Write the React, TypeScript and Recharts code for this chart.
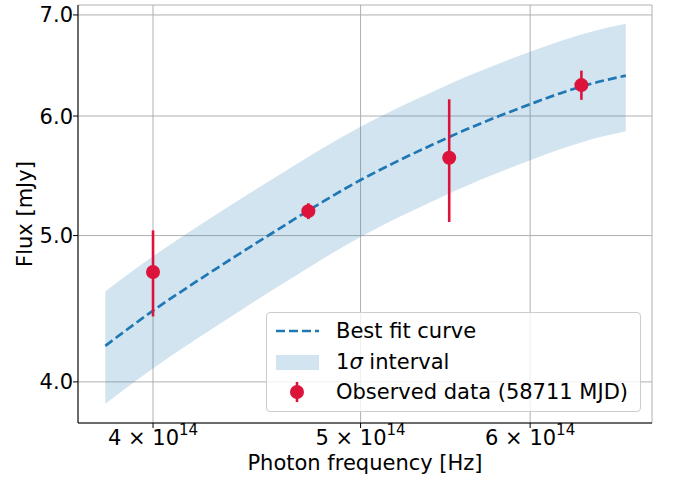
import {
  ComposedChart,
  Line,
  Area,
  Scatter,
  ErrorBar,
  XAxis,
  YAxis,
  CartesianGrid,
} from "recharts";

// best fit curve + 1 sigma band
const freq = [3.8e14, 4.0e14, 4.2e14, 4.4e14, 4.6e14, 4.8e14, 5.0e14, 5.2e14, 5.4e14, 5.6e14, 5.8e14, 6.0e14, 6.2e14, 6.4e14, 6.65e14];
const fit = [4.226, 4.459, 4.671, 4.874, 5.071, 5.264, 5.442, 5.599, 5.742, 5.877, 5.998, 6.109, 6.213, 6.3, 6.381];
const lower = [3.869, 4.083, 4.279, 4.466, 4.647, 4.825, 4.99, 5.135, 5.267, 5.393, 5.505, 5.608, 5.705, 5.787, 5.862];
const upper = [4.592, 4.844, 5.073, 5.292, 5.504, 5.712, 5.903, 6.072, 6.225, 6.37, 6.499, 6.617, 6.728, 6.82, 6.906];

// observed data (58711 MJD)
const obsFreq = [4.0e14, 4.727e14, 5.5e14, 6.34e14];
const obsFlux = [4.73, 5.19, 5.63, 6.29];
const obsErr = [0.31, 0.063, 0.525, 0.14];

const xTicks = [4e14, 5e14, 6e14];
const yTicks = [4, 5, 6, 7];

const FONT = "DejaVu Sans";
const BLUE = "#1f77b4";
const RED = "#dc143c";

const curveData = freq.map((f, i) => ({ x: f, fit: fit[i], band: [lower[i], upper[i]] }));
const obsData = obsFreq.map((f, i) => ({ x: f, y: obsFlux[i], err: obsErr[i] }));

const XTick = (props: any) => {
  const { x, y, payload } = props;
  const m = Math.round(payload.value / 1e14);
  return (
    <text x={x} y={y + 15} textAnchor="middle" fontSize={21} fontFamily={FONT} fill="#000">
      {m} × 10
      <tspan dy={-10} fontSize={15}>14</tspan>
    </text>
  );
};

const YTick = (props: any) => {
  const { x, y, payload } = props;
  return (
    <text x={x + 2} y={y + 7.5} textAnchor="end" fontSize={21} fontFamily={FONT} fill="#000">
      {payload.value.toFixed(1)}
    </text>
  );
};

const Dot = (props: any) => <circle cx={props.cx} cy={props.cy} r={7} fill={RED} />;

export default function App() {
  return (
    <div style={{ position: "absolute", left: 0, top: 0, width: 676, height: 481, background: "#fff" }}>
      <ComposedChart
        width={676}
        height={481}
        data={curveData}
        margin={{ top: 5, right: 24, left: 0, bottom: 0 }}
      >
        <CartesianGrid stroke="#b0b0b0" strokeWidth={1} />
        <XAxis
          dataKey="x"
          type="number"
          scale="log"
          domain={[3.69e14, 6.84e14]}
          allowDataOverflow
          ticks={xTicks}
          tick={<XTick />}
          tickSize={5}
          tickLine={{ stroke: "#000" }}
          axisLine={{ stroke: "#000" }}
          height={58}
          label={{
            content: (p: any) => (
              <text
                x={p.viewBox.x + p.viewBox.width / 2}
                y={p.viewBox.y + 47}
                textAnchor="middle"
                fontSize={21}
                fontFamily={FONT}
                fill="#000"
              >
                Photon frequency [Hz]
              </text>
            ),
          }}
        />
        <XAxis xAxisId="top" orientation="top" type="number" domain={[0, 1]} height={0} tick={false} tickLine={false} axisLine={{ stroke: "#000" }} />
        <YAxis
          type="number"
          scale="log"
          domain={[3.757, 7.107]}
          allowDataOverflow
          ticks={yTicks}
          tick={<YTick />}
          tickSize={5}
          tickLine={{ stroke: "#000" }}
          axisLine={{ stroke: "#000" }}
          width={78}
          label={{
            content: (p: any) => {
              const cx = 25;
              const cy = p.viewBox.y + p.viewBox.height / 2;
              return (
                <text
                  x={cx}
                  y={cy}
                  transform={`rotate(-90 ${cx} ${cy})`}
                  textAnchor="middle"
                  dominantBaseline="central"
                  fontSize={21}
                  fontFamily={FONT}
                  fill="#000"
                >
                  Flux [mJy]
                </text>
              );
            },
          }}
        />
        <YAxis yAxisId="right" orientation="right" type="number" domain={[0, 1]} width={0} tick={false} tickLine={false} axisLine={{ stroke: "#000" }} />
        <Area
          dataKey="band"
          stroke="none"
          fill={BLUE}
          fillOpacity={0.2}
          isAnimationActive={false}
          type="monotone"
        />
        <Line
          dataKey="fit"
          stroke={BLUE}
          strokeWidth={2.7}
          strokeDasharray="9 4"
          dot={false}
          type="monotone"
          isAnimationActive={false}
        />
        <Scatter data={obsData} dataKey="y" shape={<Dot />} isAnimationActive={false}>
          <ErrorBar dataKey="err" direction="y" width={0} stroke={RED} strokeWidth={2.6} isAnimationActive={false} />
        </Scatter>
      </ComposedChart>

      <div
        style={{
          position: "absolute",
          left: 266,
          top: 312,
          width: 373,
          height: 98,
          border: "1px solid #cccccc",
          borderRadius: 4,
          background: "rgba(255,255,255,0.8)",
          fontFamily: FONT,
          fontSize: 21,
          color: "#000",
        }}
      >
        {[
          { label: <span>Best fit curve</span>, kind: "line" },
          { label: <span>1<i>σ</i> interval</span>, kind: "patch" },
          { label: <span>Observed data (58711 MJD)</span>, kind: "dot" },
        ].map((item, i) => (
          <div
            key={i}
            style={{ position: "absolute", left: 0, top: 3 + i * 30.5, height: 30, display: "flex", alignItems: "center" }}
          >
            <svg width={60} height={30} style={{ marginLeft: 8 }}>
              {item.kind === "line" && (
                <line x1={1} x2={44} y1={15} y2={15} stroke={BLUE} strokeWidth={2.7} strokeDasharray="9 4" />
              )}
              {item.kind === "patch" && <rect x={1} y={8} width={43} height={15} fill={BLUE} fillOpacity={0.2} />}
              {item.kind === "dot" && (
                <g>
                  <line x1={22} x2={22} y1={5} y2={25} stroke={RED} strokeWidth={2.6} />
                  <circle cx={22} cy={15} r={7} fill={RED} />
                </g>
              )}
            </svg>
            <span style={{ marginLeft: 1, whiteSpace: "nowrap", lineHeight: "30px" }}>{item.label}</span>
          </div>
        ))}
      </div>
    </div>
  );
}
